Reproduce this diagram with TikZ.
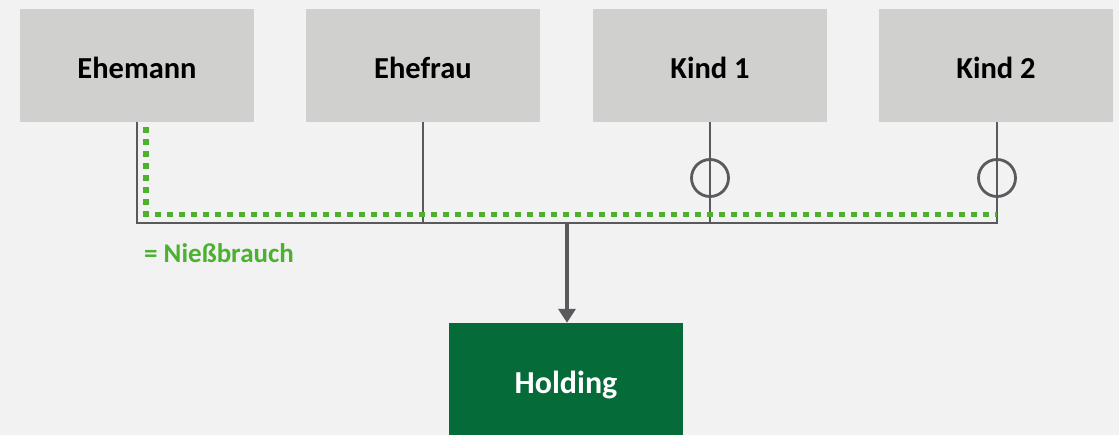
\documentclass[tikz,border=0pt]{standalone}
\usepackage{fontspec}
\setmainfont{Carlito}
\usetikzlibrary{arrows.meta}
\definecolor{bg}{HTML}{F2F2F2}
\definecolor{boxgray}{HTML}{D0D0CE}
\definecolor{wiregray}{HTML}{595A5E}
\definecolor{holdgreen}{HTML}{056B38}
\definecolor{nbgreen}{HTML}{4CB130}
% lower a box text without changing the box dimensions
\newcommand{\lowertext}[2]{\raisebox{-#1}[\height][\depth]{#2}}
\begin{document}
\begin{tikzpicture}[x=1pt,y=-1pt,
  person/.style={fill=boxgray, minimum width=234pt, minimum height=113pt, inner sep=0pt,
    font=\bfseries\fontsize{30.5}{36}\selectfont, text=black},
  holdbox/.style={fill=holdgreen, minimum width=234pt, minimum height=112pt, inner sep=0pt,
    font=\bfseries\fontsize{32}{38}\selectfont, text=white},
  wire/.style={draw=wiregray, line width=2.8pt},
  ring/.style={circle, draw=wiregray, line width=2.8pt, minimum size=37pt, inner sep=0pt},
  usufruct/.style={draw=nbgreen, line width=5.5pt, dash pattern=on 5.5pt off 6.5pt},
  legend/.style={font=\bfseries\fontsize{27}{32}\selectfont, text=nbgreen, inner sep=0pt, anchor=west}]
\useasboundingbox[fill=bg] (0,0) rectangle (1119,435);

% owners
\node[person] (ehemann) at (137,65.5) {\lowertext{2.5pt}{Ehemann}};
\node[person] (ehefrau) at (423,65.5) {\lowertext{2.5pt}{Ehefrau}};
\node[person] (kind1) at (710,65.5) {\lowertext{2.5pt}{Kind 1}};
\node[person] (kind2) at (996,65.5) {\lowertext{2.5pt}{Kind 2}};

% holding company
\node[holdbox] (holding) at (566,379) {\lowertext{5.5pt}{Holding}};

% common bus line
\coordinate (busL) at (137,223);
\coordinate (busR) at (997,223);
\draw[wire] (ehemann.south) -- (busL) -- (busR) -- (busR |- kind2.south);
\draw[wire] (ehefrau.south) -- (ehefrau.south |- busL);
\draw[wire] (kind1.south) -- (kind1.south |- busL);

% rings on the children's shares
\node[ring] (ring1) at (710,178) {};
\node[ring] (ring2) at (997,178) {};

% arrow into the holding
\coordinate (tap) at (567,223);
\draw[wire, line width=3.5pt, -{Triangle[width=17pt,length=14pt]}] (tap) -- (tap |- holding.north);

% usufruct (dotted green)
\coordinate (nbTop) at (146,127.5);
\coordinate (nbCorner) at (146,214.5);
\coordinate (nbEnd) at (997,214.5);
\draw[usufruct] (nbTop) -- (nbCorner) -- (nbEnd);

% legend
\node[legend] (legendtext) at (144,253) {= Nießbrauch};
\end{tikzpicture}
\end{document}
